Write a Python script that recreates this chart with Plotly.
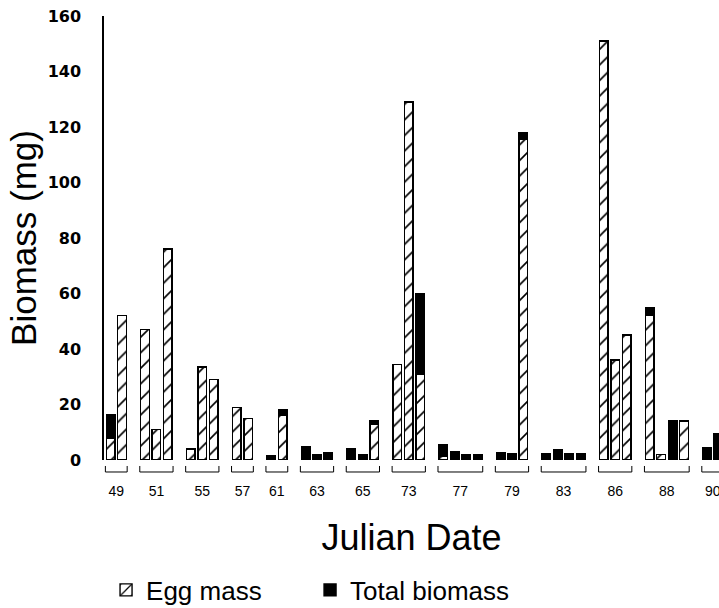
import plotly.graph_objects as go

# Julian dates (groups) and, for each group, the per-sample values (mg)
dates = ["49", "51", "55", "57", "61", "63", "65", "73", "77", "79", "83", "86", "88", "90"]
egg_mass = [
    [8, 52], [47, 11, 76], [4, 33.5, 29], [19, 15], [0, 16], [0, 0, 0],
    [0, 0, 13], [34.5, 129, 31], [1.5, 0, 0, 0], [0, 0, 115.5], [0, 0, 0, 0],
    [151, 36, 45], [52, 2, 0, 14], [0, 0],
]
total_biomass = [
    [16.2, 52], [47, 11, 76], [4, 33.5, 29], [19, 15], [1.5, 18], [4.7, 1.8, 2.6],
    [3.9, 1.8, 14.2], [34.5, 129, 60], [5.4, 2.9, 1.8, 1.8], [2.5, 2.1, 118], [2.4, 3.6, 2.4, 2.4],
    [151, 36, 45], [55, 2, 14, 14], [4.5, 9.5],
]
y_ticks = [0, 20, 40, 60, 80, 100, 120, 140, 160]

FONT = "Liberation Sans"

# bar slots: one slot per sample, one empty slot between dates
xs, eggs, tops, centers, spans = [], [], [], [], []
slot = 0
for eg, tot in zip(egg_mass, total_biomass):
    first = slot
    for e, t in zip(eg, tot):
        xs.append(slot)
        eggs.append(e if e > 0 else None)
        rest = t - e
        tops.append(rest if rest > 0.05 else None)
        slot += 1
    last = slot - 1
    centers.append((first + last) / 2)
    spans.append((first, last))
    slot += 1

fig = go.Figure()
fig.add_trace(go.Bar(
    x=xs, y=eggs, name="Egg mass", width=0.75,
    marker=dict(color="white", line=dict(color="black", width=1.4),
                pattern=dict(shape="/", size=11, solidity=0.15,
                             fgcolor="black", bgcolor="white", fillmode="replace")),
))
fig.add_trace(go.Bar(
    x=xs, y=tops, name="Total biomass", width=0.75,
    marker=dict(color="black", line=dict(color="black", width=1.4)),
))

shapes = []
for a, b in spans:
    x0, x1 = a - 0.45, b + 0.45
    shapes.append(dict(
        type="path", xref="x", yref="paper",
        path=f"M {x0},-0.0135 L {x0},-0.027 L {x1},-0.027 L {x1},-0.0135",
        line=dict(color="black", width=1),
    ))

fig.update_layout(
    width=719, height=608,
    margin=dict(l=104, r=0, t=16, b=148, autoexpand=False),
    barmode="stack",
    plot_bgcolor="white", paper_bgcolor="white",
    font=dict(family=FONT, color="black"),
    shapes=shapes,
    legend=dict(orientation="h", xref="container", yref="container",
                x=0.1475, xanchor="left", y=0.0296, yanchor="middle",
                font=dict(size=26, family=FONT), entrywidth=159, traceorder="normal"),
    xaxis=dict(range=[-0.57, 53.05], showgrid=False, zeroline=False, showline=False,
               tickmode="array", tickvals=centers, ticktext=dates, ticks="",
               tickfont=dict(size=14, family=FONT), ticklabelstandoff=21,
               ticklabeloverflow="allow",
               title=dict(text="Julian Date", font=dict(size=36, family=FONT), standoff=26)),
    yaxis=dict(range=[0, 160], showgrid=False, zeroline=False, showline=True,
               linecolor="black", linewidth=1.5, ticks="",
               tickmode="array", tickvals=y_ticks,
               tickfont=dict(size=16, family="DejaVu Sans", weight="bold"), ticklabelstandoff=18,
               title=dict(text="Biomass (mg)", font=dict(size=35, family=FONT), standoff=0)),
)

fig.write_html("out.html", config={"displayModeBar": False},
               post_script="document.body.style.margin='0';")
